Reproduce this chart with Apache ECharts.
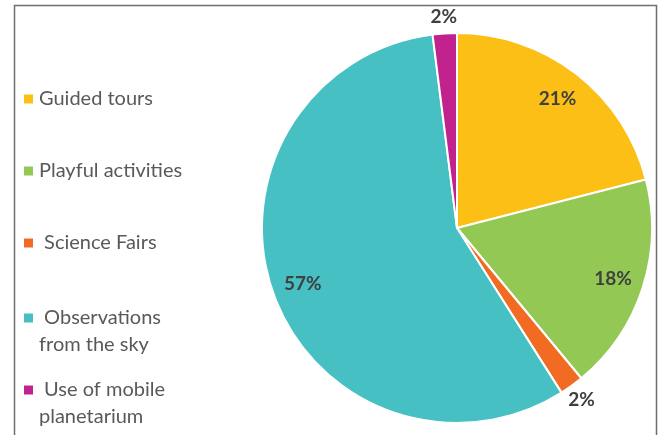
<!DOCTYPE html>
<html>
<head>
<meta charset="utf-8">
<script src="https://cdn.jsdelivr.net/npm/echarts@6/dist/echarts.min.js"></script>
<style>
  html, body { margin: 0; padding: 0; background: #fff; }
  #main { width: 660px; height: 435px; }
</style>
</head>
<body>
<div id="main"></div>
<script>
// activities and their share (%)
const categories = ['Guided tours', 'Playful activities', 'Science Fairs', 'Observations from the sky', 'Use of mobile planetarium']
const legendText = ['Guided tours', 'Playful activities', ' Science Fairs', ' Observations\nfrom the sky', ' Use of mobile\nplanetarium']
const values = [21, 18, 2, 57, 2]
const colors = ['#FCBF16', '#92C853', '#F26B23', '#47C0C4', '#C1228E']

const mycharts = echarts.init(document.querySelector('#main'))

const data = categories.map((name, i) => ({ name: name, value: values[i] }))

// small slices get their label outside the pie
const ringData = (small) => categories.map((name, i) => ({
  name: name,
  value: values[i],
  label: { show: small ? values[i] < 5 : values[i] >= 5 }
}))

const labelStyle = {
  position: 'inside',
  formatter: '{c}%',
  color: '#404040',
  fontSize: 19,
  fontWeight: 'bold',
  fontFamily: 'Lato'
}

// one legend per item so each keeps its own slot (icon centre y)
const legendCenters = [99, 171, 243, 318, 390]
const legends = categories.map((name, i) => {
  const twoLines = legendText[i].indexOf('\n') > -1
  return {
    data: [name],
    orient: 'vertical',
    left: 22,
    top: twoLines ? legendCenters[i] - 40.5 : legendCenters[i] - 13.5,
    padding: 0,
    icon: 'rect',
    itemWidth: 11,
    itemHeight: 11,
    selectedMode: false,
    // blank first line keeps the icon level with the first text line
    formatter: () => (twoLines ? ' \n' : '') + legendText[i],
    textStyle: {
      color: '#595959',
      fontSize: 20,
      fontFamily: 'Lato',
      lineHeight: 27
    }
  }
})

const option = {
  color: colors,
  animation: false,
  legend: legends,
  graphic: [
    {
      type: 'rect',
      silent: true,
      shape: { x: 14.5, y: 5.5, width: 642, height: 460 },
      style: { fill: 'none', stroke: '#6e6e6e', lineWidth: 1.5 }
    }
  ],
  series: [
    {
      name: 'share',
      type: 'pie',
      center: [457, 228],
      radius: [0, 195],
      clockwise: true,
      startAngle: 90,
      itemStyle: { borderColor: '#fff', borderWidth: 2 },
      label: { show: false },
      labelLine: { show: false },
      emphasis: { disabled: true },
      data: data
    },
    {
      name: 'inner labels',
      type: 'pie',
      silent: true,
      center: [457, 228],
      radius: [140, 182],
      itemStyle: { color: 'rgba(0,0,0,0)' },
      label: labelStyle,
      labelLine: { show: false },
      emphasis: { disabled: true },
      data: ringData(false)
    },
    {
      name: 'outer labels',
      type: 'pie',
      silent: true,
      center: [457, 228],
      radius: [198, 220],
      itemStyle: { color: 'rgba(0,0,0,0)' },
      label: labelStyle,
      labelLine: { show: false },
      emphasis: { disabled: true },
      data: ringData(true)
    }
  ]
}
mycharts.setOption(option)
</script>
</body>
</html>
